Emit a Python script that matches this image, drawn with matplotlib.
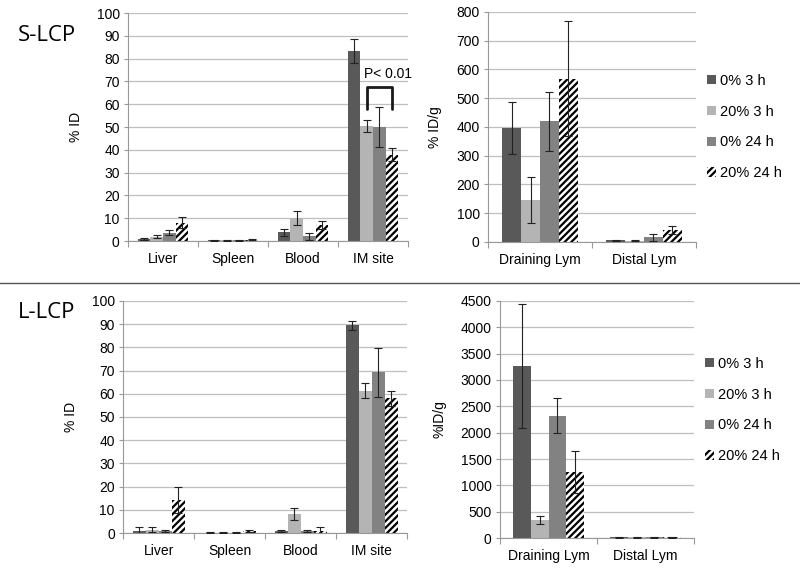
import numpy as np
import matplotlib.pyplot as plt
from matplotlib.patches import Patch
from matplotlib.lines import Line2D

plt.rcParams['font.family'] = ['Liberation Sans', 'DejaVu Sans']
plt.rcParams['hatch.linewidth'] = 1.6

# --- data ---
series = ['0% 3 h', '20% 3 h', '0% 24 h', '20% 24 h']
organs = ['Liver', 'Spleen', 'Blood', 'IM site']
lymph = ['Draining Lym', 'Distal Lym']

s_id = [[1.0, 0.3, 3.8, 83.2],
        [1.9, 0.3, 10.0, 50.5],
        [3.7, 0.3, 2.0, 50.0],
        [8.0, 0.5, 7.0, 37.8]]
s_id_err = [[0.5, 0.1, 1.6, 5.3],
            [0.6, 0.1, 3.0, 2.6],
            [1.1, 0.1, 1.4, 8.6],
            [2.4, 0.2, 1.8, 2.8]]

s_idg = [[396, 6], [145, 5], [420, 16], [567, 40]]
s_idg_err = [[90, 2], [80, 2], [102, 13], [200, 14]]

l_id = [[1.0, 0.2, 1.0, 89.5],
        [1.5, 0.2, 8.2, 61.3],
        [1.0, 0.2, 1.0, 69.3],
        [14.3, 1.0, 1.0, 58.1]]
l_id_err = [[1.5, 0.1, 0.5, 1.9],
            [1.0, 0.1, 2.4, 3.3],
            [0.5, 0.1, 0.5, 10.5],
            [5.5, 0.5, 1.4, 3.3]]

l_idg = [[3268, 10], [341, 10], [2320, 10], [1252, 15]]
l_idg_err = [[1170, 5], [70, 5], [330, 5], [400, 8]]

cores = ['#595959', '#b4b4b4', '#828282', 'white']
hatches = [None, None, None, '/////']


def grafico(ax, cats, vals, errs, ymax, ystep, ylabel):
    n = len(series)
    larg = 1 / (n + 1.5)
    x = np.arange(len(cats))
    for i in range(n):
        pos = x + (i - (n - 1) / 2) * larg
        ax.bar(pos, vals[i], larg, color=cores[i], hatch=hatches[i],
               edgecolor='white' if hatches[i] is None else 'black', linewidth=0,
               zorder=2)
        ax.errorbar(pos, vals[i], yerr=errs[i], fmt='none', ecolor='#222222',
                    elinewidth=0.8, capsize=3, capthick=0.8, zorder=3)
    ax.set_xlim(-0.5, len(cats) - 0.5)
    ax.set_ylim(0, ymax)
    ax.set_yticks(np.arange(0, ymax + 1, ystep))
    ax.yaxis.grid(True, color='#bfbfbf', linewidth=0.9, zorder=0)
    ax.set_axisbelow(True)
    ax.set_xticks(np.arange(len(cats) + 1) - 0.5)
    ax.set_xticklabels([])
    ax.set_xticks(x, minor=True)
    ax.set_xticklabels(cats, minor=True)
    ax.tick_params(axis='x', which='major', length=4, color='#999999', direction='out')
    ax.tick_params(axis='x', which='minor', length=0, pad=8, labelsize=10)
    ax.tick_params(axis='y', length=3, color='#999999', labelsize=10, pad=3)
    for lado in ['top', 'right']:
        ax.spines[lado].set_visible(False)
    for lado in ['left', 'bottom']:
        ax.spines[lado].set_color('#999999')
    ax.set_ylabel(ylabel, fontsize=10, labelpad=10)


def legenda(ax, y):
    h = [Patch(facecolor=cores[i], hatch=hatches[i], edgecolor='none' if hatches[i] is None else 'black',
               linewidth=0) for i in range(len(series))]
    ax.legend(h, series, loc='center left', bbox_to_anchor=(0.99, y), frameon=False,
              fontsize=10.5, handlelength=0.6, handleheight=0.6, handletextpad=0.3,
              labelspacing=1.15)


fig = plt.figure(figsize=(8, 5.68), dpi=100)

ax1 = fig.add_axes([0.16, 0.5757, 0.35, 0.4014])
grafico(ax1, organs, s_id, s_id_err, 100, 10, '% ID')
# P< 0.01 bracket between 20% 3 h and 20% 24 h at IM site
larg = 1 / 5.5
xa = 3 + (1 - 1.5) * larg
xb = 3 + (3 - 1.5) * larg
ax1.plot([xa, xa, xb, xb], [58, 67.5, 67.5, 58], color='#1a1a1a', lw=2,
         solid_joinstyle='round', solid_capstyle='round', zorder=4)
ax1.text((xa + xb) / 2 + 0.12, 70, 'P< 0.01', ha='center', va='bottom', fontsize=10)

ax2 = fig.add_axes([0.61, 0.574, 0.26, 0.4049])
grafico(ax2, lymph, s_idg, s_idg_err, 800, 100, '% ID/g')
legenda(ax2, 0.5)

ax3 = fig.add_axes([0.154, 0.0616, 0.355, 0.4085])
grafico(ax3, organs, l_id, l_id_err, 100, 10, '% ID')

ax4 = fig.add_axes([0.625, 0.0528, 0.2425, 0.4173])
grafico(ax4, lymph, l_idg, l_idg_err, 4500, 500, '%ID/g')
legenda(ax4, 0.54)

fig.text(0.022, 0.938, 'S-LCP', fontsize=16, family=['Open Sans', 'DejaVu Sans'], va='center')
fig.text(0.022, 0.45, 'L-LCP', fontsize=16, family=['Open Sans', 'DejaVu Sans'], va='center')
fig.add_artist(Line2D([0, 1], [1 - 283 / 568, 1 - 283 / 568], color='#555555', lw=1))

fig.savefig('out.png', dpi=100)
